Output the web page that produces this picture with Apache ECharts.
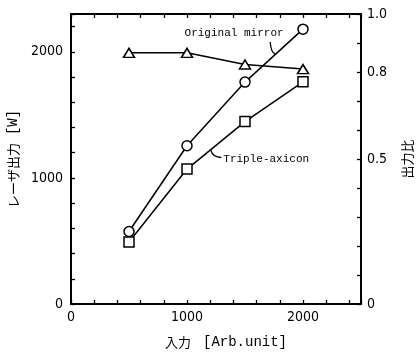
<!DOCTYPE html>
<html><head><meta charset="utf-8">
<script src="https://cdn.jsdelivr.net/npm/echarts@6/dist/echarts.min.js"></script>
<style>html,body{margin:0;padding:0;background:#fff}#c{width:417px;height:361px}</style>
</head><body><div id="c"></div>
<script>
var inputs = [500, 1000, 1500, 2000];
var originalMirror = [575, 1255, 1760, 2180];
var tripleAxicon = [492, 1070, 1447, 1762];
var ratio = [0.866, 0.866, 0.826, 0.81];
var xLabels = [0, 1000, 2000];
var yLeftLabels = [0, 1000, 2000];
var yRightLabels = [0, 0.5, 0.8, 1.0];

var numFont = "'Liberation Sans Narrow','DejaVu Sans Condensed','Liberation Sans',sans-serif";
var monoFont = "'Liberation Mono','DejaVu Sans Mono',monospace";
var cjkFont = "'Noto Sans CJK JP',sans-serif";

function pairs(xs, ys){ return xs.map(function(x,i){return [x, ys[i]];}); }

var chart = echarts.init(document.getElementById('c'), null, {renderer:'canvas'});
var axisLineStyle = {color:'#000', width:2};
var tickStyle = {color:'#000', width:1.3};
var option = {
  animation:false,
  backgroundColor:'#fff',
  grid:{left:71, right:56, top:14, bottom:57, show:false, containLabel:false, outerBoundsMode:'none'},
  xAxis:[{
    type:'value', min:0, max:2500, interval:200, position:'bottom',
    axisLine:{show:true, onZero:false, lineStyle:axisLineStyle},
    axisTick:{show:true, inside:true, length:4, lineStyle:tickStyle},
    splitLine:{show:false},
    axisLabel:{margin:6, color:'#000', fontFamily:numFont, fontSize:14,
      formatter:function(v){return xLabels.indexOf(v)>=0 ? String(v) : '';}},
    name:'{a|入力}{s|}{b|[Arb.unit]}', nameLocation:'middle', nameGap:31,
    nameTextStyle:{padding:[0,0,0,20], rich:{
      a:{fontFamily:cjkFont, fontSize:13, color:'#000'},
      s:{width:12, fontSize:13},
      b:{fontFamily:monoFont, fontSize:14, color:'#000'}
    }}
  },{
    type:'value', min:0, max:2500, interval:200, position:'top',
    axisLine:{show:true, onZero:false, lineStyle:axisLineStyle},
    axisTick:{show:true, inside:true, length:4, lineStyle:tickStyle},
    splitLine:{show:false}, axisLabel:{show:false}
  }],
  yAxis:[{
    type:'value', min:0, max:2300, interval:200, position:'left',
    axisLine:{show:true, onZero:false, lineStyle:axisLineStyle},
    axisTick:{show:true, inside:true, length:4, lineStyle:tickStyle},
    splitLine:{show:false},
    axisLabel:{margin:8, color:'#000', fontFamily:numFont, fontSize:14,
      formatter:function(v){return yLeftLabels.indexOf(v)>=0 ? String(v) : '';}},
    name:'{a|レーザ出力}{s|}{b|[W]}', nameLocation:'middle', nameGap:43, nameRotate:90,
    nameTextStyle:{rich:{
      a:{fontFamily:cjkFont, fontSize:13, color:'#000'},
      s:{width:8, fontSize:13},
      b:{fontFamily:monoFont, fontSize:14, color:'#000'}
    }}
  },{
    type:'value', min:0, max:1.0, interval:0.1, position:'right',
    axisLine:{show:true, onZero:false, lineStyle:axisLineStyle},
    axisTick:{show:true, inside:true, length:4, lineStyle:tickStyle},
    splitLine:{show:false},
    axisLabel:{margin:6, color:'#000', fontFamily:numFont, fontSize:14,
      formatter:function(v){
        var r = Math.round(v*10)/10;
        for (var i=0;i<yRightLabels.length;i++){ if (Math.abs(yRightLabels[i]-r)<1e-9 && Math.abs(v-r)<1e-9) return r===0 ? '0' : r.toFixed(1); }
        return '';
      }},
    name:'出力比', nameLocation:'middle', nameGap:40, nameRotate:90,
    nameTextStyle:{fontFamily:cjkFont, fontSize:13, color:'#000'}
  }],
  series:[{
    name:'Original mirror', type:'line', xAxisIndex:0, yAxisIndex:0,
    data:pairs(inputs, originalMirror), symbol:'circle', symbolSize:10, showAllSymbol:true,
    lineStyle:{color:'#000', width:1.5}, itemStyle:{color:'#fff', borderColor:'#000', borderWidth:1.5}, z:3
  },{
    name:'Triple-axicon', type:'line', xAxisIndex:0, yAxisIndex:0,
    data:pairs(inputs, tripleAxicon), symbol:'rect', symbolSize:10,
    lineStyle:{color:'#000', width:1.5}, itemStyle:{color:'#fff', borderColor:'#000', borderWidth:1.5}, z:3
  },{
    name:'Ratio', type:'line', xAxisIndex:0, yAxisIndex:1,
    data:pairs(inputs, ratio), symbol:'triangle', symbolSize:[11,9],
    lineStyle:{color:'#000', width:1.5}, itemStyle:{color:'#fff', borderColor:'#000', borderWidth:1.5}, z:2
  }]
};
chart.setOption(option);

function px(p){ return chart.convertToPixel({xAxisIndex:0, yAxisIndex:0}, p); }
var t1 = px([979, 2149]), t2 = px([1313, 1150]);
var a0 = px([1717, 2078]), a1 = px([1725, 1991]), a2 = px([1760, 1983]);
var b0 = px([1206, 1221]), b1 = px([1219, 1166]), b2 = px([1296, 1162]);
chart.setOption({graphic:[
  {type:'text', x:t1[0], y:t1[1], z:10, style:{text:'Original mirror', fill:'#000', font:'11px '+monoFont, textVerticalAlign:'middle', textAlign:'left', verticalAlign:'middle', align:'left'}},
  {type:'text', x:t2[0], y:t2[1], z:10, style:{text:'Triple-axicon', fill:'#000', font:'11px '+monoFont, textVerticalAlign:'middle', textAlign:'left', verticalAlign:'middle', align:'left'}},
  {type:'bezierCurve', z:10, shape:{x1:a0[0], y1:a0[1], cpx1:a1[0], cpy1:a1[1], x2:a2[0], y2:a2[1]}, style:{stroke:'#000', lineWidth:1.3, fill:null}},
  {type:'bezierCurve', z:10, shape:{x1:b0[0], y1:b0[1], cpx1:b1[0], cpy1:b1[1], x2:b2[0], y2:b2[1]}, style:{stroke:'#000', lineWidth:1.3, fill:null}}
]});
</script>
</body></html>
